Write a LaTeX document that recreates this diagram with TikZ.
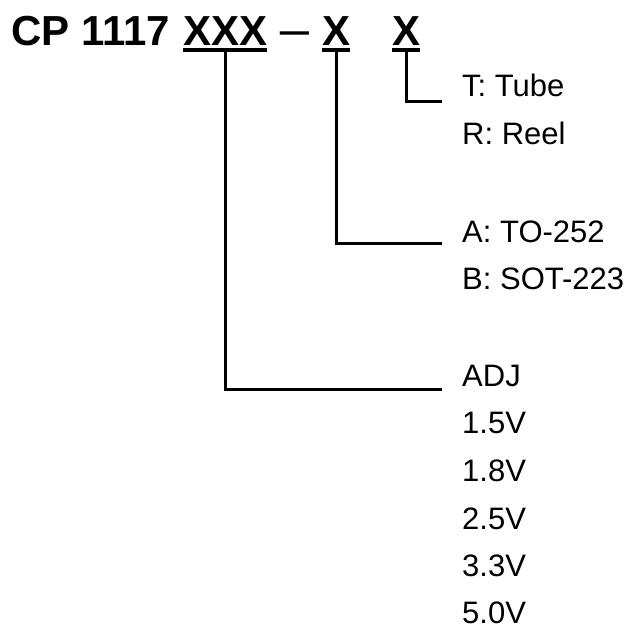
\documentclass[tikz,border=0pt]{standalone}
\usepackage{fontspec}
\setmainfont{Liberation Sans}
\usepackage{graphicx}
\tikzset{
  code/.style={inner sep=0pt, anchor=base west, font=\fontsize{42}{50}\selectfont\bfseries},
  choice/.style={inner sep=0pt, anchor=base west, font=\fontsize{31}{37}\selectfont},
  uline/.style={line width=4pt},
  lead/.style={line width=3pt}
}

\begin{document}
\begin{tikzpicture}[x=1pt, y=1pt]
\useasboundingbox (0,0) rectangle (629,-628);

% Part number
\node[code] (cp) at (11,-46) {CP 1117};
\node[code] (xxx) at (183,-46) {XXX};
\node[code] (dash) at (278,-43) {\scalebox{1.4}[0.8]{\textendash}};
\node[code] (pkg) at (322,-46) {X};
\node[code] (pack) at (392,-46) {X};

% Underlines
\draw[uline] ([yshift=-3.5pt]xxx.south west) -- ([yshift=-3.5pt]xxx.south east);
\draw[uline] ([yshift=-3.5pt]pkg.south west) -- ([yshift=-3.5pt]pkg.south east);
\draw[uline] ([yshift=-3.5pt]pack.south west) -- ([yshift=-3.5pt]pack.south east);

% Packing
\node[choice] (tube) at (462,-97) {T: Tube};
\node[choice] (reel) at (462,-145) {R: Reel};

% Package
\node[choice] (to) at (462,-243) {A: TO-252};
\node[choice] (sot) at (462,-290) {B: SOT-223};

% Voltage
\node[choice] (adj) at (462,-386) {ADJ};
\node[choice] (v15) at (462,-433) {1.5V};
\node[choice] (v18) at (462,-481) {1.8V};
\node[choice] (v25) at (462,-529) {2.5V};
\node[choice] (v33) at (462,-576) {3.3V};
\node[choice] (v50) at (462,-623) {5.0V};

% Leads
\coordinate (packend) at (442,-102);
\coordinate (pkgend) at (442,-244);
\coordinate (xxxend) at (442,-389);

\draw[lead] ([yshift=-5pt]pack.south) |- (packend);
\draw[lead] ([yshift=-5pt]pkg.south) |- (pkgend);
\draw[lead] ([yshift=-5pt]xxx.south) |- (xxxend);

\end{tikzpicture}
\end{document}
